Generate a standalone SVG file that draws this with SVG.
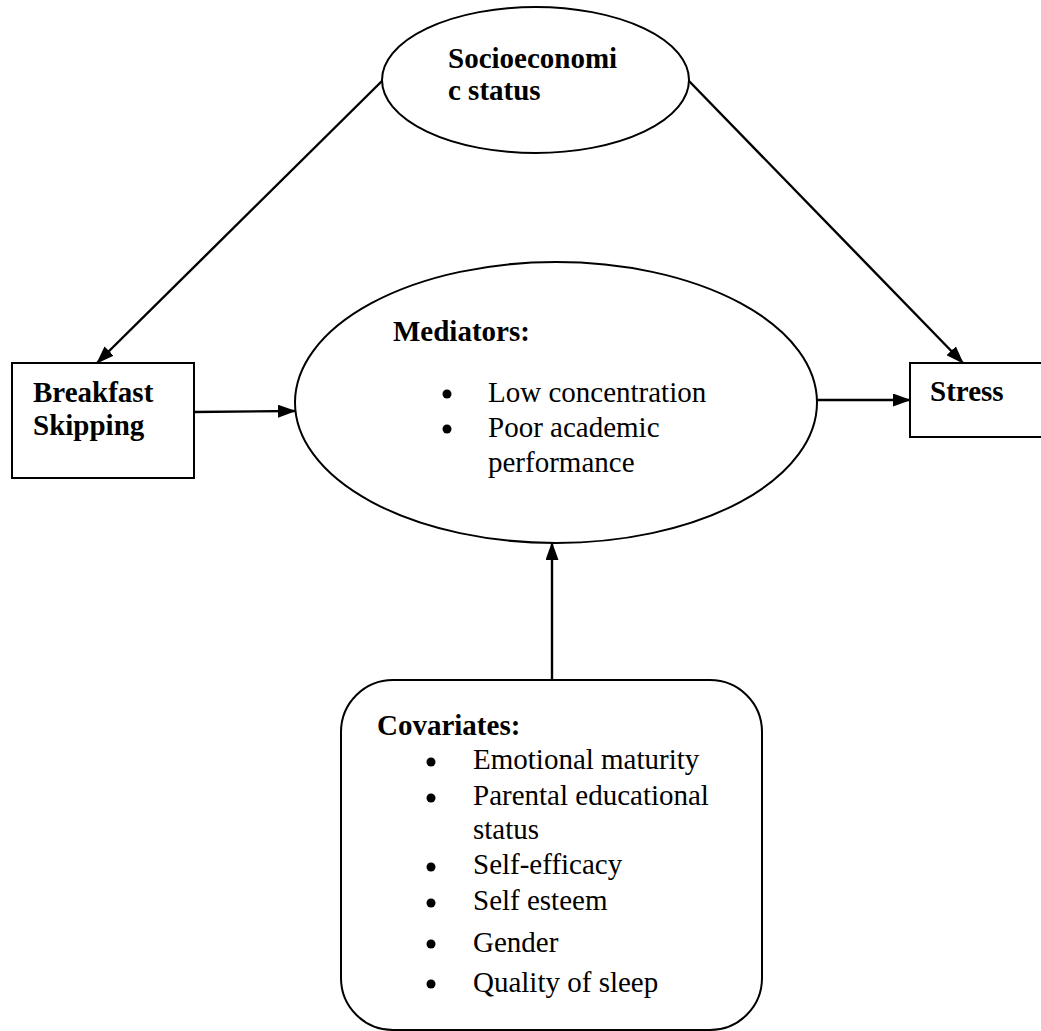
<svg xmlns="http://www.w3.org/2000/svg" width="1041" height="1031" viewBox="0 0 1041 1031">
<style>
.shape{fill:#fff;stroke:#000;stroke-width:2}
.b{font-family:"Liberation Serif","Times New Roman",serif;font-size:29px;font-weight:bold;fill:#000}
.r{font-family:"Liberation Serif","Times New Roman",serif;font-size:29px;fill:#000}
.conn{stroke:#000;stroke-width:2.4;fill:none;marker-end:url(#ah)}
</style>
<defs>
<marker id="ah" viewBox="0 0 18 13" refX="17" refY="6.5" markerWidth="18" markerHeight="13" markerUnits="userSpaceOnUse" orient="auto">
<path d="M0,0 L18,6.5 L0,13 z" fill="#000"/>
</marker>
</defs>
<rect width="1041" height="1031" fill="#fff"/>
<g id="connectors">
<line class="conn" x1="382" y1="81" x2="97" y2="363"/>
<line class="conn" x1="689" y1="81" x2="963" y2="363"/>
<line class="conn" x1="194" y1="412" x2="295" y2="411"/>
<line class="conn" x1="817" y1="400" x2="910" y2="400"/>
<line class="conn" x1="552" y1="680" x2="552" y2="543"/>
</g>
<g id="ses">
<ellipse class="shape" cx="535.5" cy="80" rx="153.5" ry="73"/>
<text class="b" x="448" y="68">Socioeconomi</text>
<text class="b" x="448" y="100">c status</text>
</g>
<g id="breakfast">
<rect class="shape" x="12" y="363" width="182" height="115"/>
<text class="b" x="33" y="402">Breakfast</text>
<text class="b" x="33" y="435">Skipping</text>
</g>
<g id="stress">
<rect class="shape" x="910" y="363" width="140" height="74"/>
<text class="b" x="930" y="401">Stress</text>
</g>
<g id="mediators">
<ellipse class="shape" cx="556" cy="402.5" rx="261" ry="140.5"/>
<text class="b" x="393" y="341">Mediators:</text>
<circle cx="447" cy="394" r="4.5"/>
<circle cx="447" cy="429" r="4.5"/>
<text class="r" x="488" y="402">Low concentration</text>
<text class="r" x="488" y="437">Poor academic</text>
<text class="r" x="488" y="472">performance</text>
</g>
<g id="covariates">
<rect class="shape" x="341" y="680" width="421" height="350" rx="52" ry="52"/>
<text class="b" x="377" y="735">Covariates:</text>
<circle cx="431" cy="762" r="4.5"/>
<circle cx="431" cy="798" r="4.5"/>
<circle cx="431" cy="867" r="4.5"/>
<circle cx="431" cy="903" r="4.5"/>
<circle cx="431" cy="944" r="4.5"/>
<circle cx="431" cy="984" r="4.5"/>
<text class="r" x="473" y="769">Emotional maturity</text>
<text class="r" x="473" y="805">Parental educational</text>
<text class="r" x="473" y="839">status</text>
<text class="r" x="473" y="874">Self-efficacy</text>
<text class="r" x="473" y="910">Self esteem</text>
<text class="r" x="473" y="952">Gender</text>
<text class="r" x="473" y="992">Quality of sleep</text>
</g>
</svg>
